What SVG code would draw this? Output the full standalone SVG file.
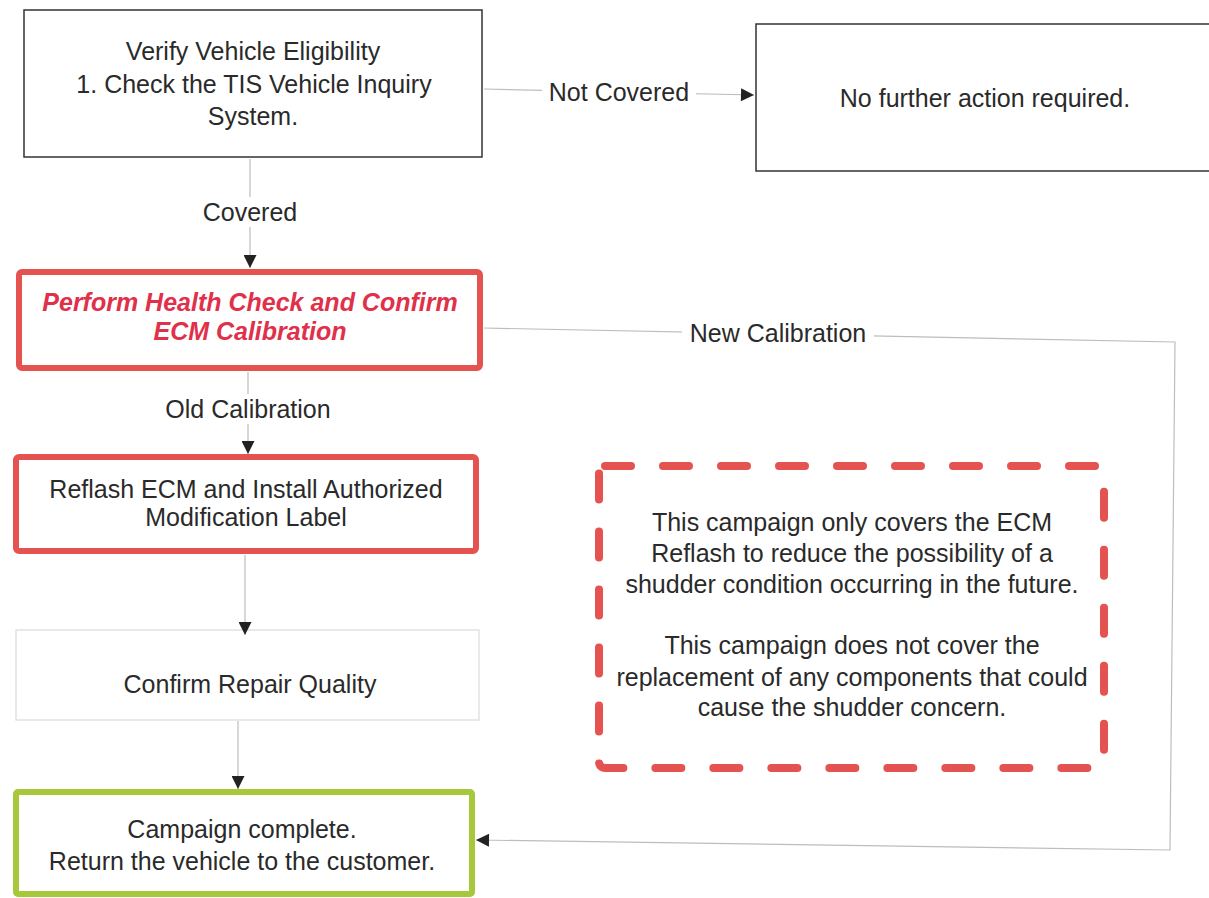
<svg xmlns="http://www.w3.org/2000/svg" width="1209" height="898" viewBox="0 0 1209 898">
<defs>
<style>
text{font-family:"Liberation Sans",Arial,sans-serif;font-size:25px;fill:#2a2a2a;text-anchor:middle}
.box{fill:#fff;stroke:#333;stroke-width:1.5}
.red{fill:#fff;stroke:#e4534f;stroke-width:6}
.green{fill:#fff;stroke:#a6c83a;stroke-width:6}
.faint{fill:#fff;stroke:#e2e2e2;stroke-width:1.5}
.conn{fill:none;stroke:#bdbdbd;stroke-width:1.2}
.lbl{fill:#fff;stroke:none}
.hc{fill:#e0304a;font-weight:bold;font-style:italic}
</style>
<marker id="arrw" viewBox="0 0 10 10" refX="10" refY="5" markerWidth="16" markerHeight="13" markerUnits="userSpaceOnUse" orient="auto">
<path d="M0,0 L10,5 L0,10 z" fill="#222"/>
</marker>
</defs>
<rect width="1209" height="898" fill="#fff"/>
<g id="verify">
<rect class="box" x="24" y="10" width="458" height="147"/>
<text x="253" y="60">Verify Vehicle Eligibility</text>
<text x="254" y="93">1. Check the TIS Vehicle Inquiry</text>
<text x="253" y="125">System.</text>
</g>
<g id="no-action">
<rect class="box" x="756" y="24" width="460" height="147"/>
<text x="985" y="107">No further action required.</text>
</g>
<g id="health-check">
<rect class="red" x="19" y="272" width="461" height="96" rx="3"/>
<text class="hc" x="250" y="311">Perform Health Check and Confirm</text>
<text class="hc" x="250" y="340">ECM Calibration</text>
</g>
<g id="reflash">
<rect class="red" x="16" y="457" width="460" height="94" rx="3"/>
<text x="246" y="498">Reflash ECM and Install Authorized</text>
<text x="246" y="526">Modification Label</text>
</g>
<g id="confirm">
<rect class="faint" x="16" y="630" width="463" height="90"/>
<text x="250" y="693">Confirm Repair Quality</text>
</g>
<g id="complete">
<rect class="green" x="16" y="792" width="456" height="102" rx="2"/>
<text x="242" y="838">Campaign complete.</text>
<text x="242" y="870">Return the vehicle to the customer.</text>
</g>
<g id="note">
<rect x="599" y="466" width="505" height="302" rx="6" fill="#fff" stroke="#e4534f" stroke-width="8" stroke-linecap="round" stroke-dasharray="26 32"/>
<text x="852" y="531">This campaign only covers the ECM</text>
<text x="852" y="562">Reflash to reduce the possibility of a</text>
<text x="852" y="593">shudder condition occurring in the future.</text>
<text x="852" y="654">This campaign does not cover the</text>
<text x="852" y="686">replacement of any components that could</text>
<text x="852" y="716">cause the shudder concern.</text>
</g>
<g id="connectors">
<path class="conn" d="M484,89 L754,95" marker-end="url(#arrw)"/>
<path class="conn" d="M250,159 L250,268" marker-end="url(#arrw)"/>
<path class="conn" d="M248,372 L248,454" marker-end="url(#arrw)"/>
<path class="conn" d="M245,555 L245,635" marker-end="url(#arrw)"/>
<path class="conn" d="M238,721 L238,789" marker-end="url(#arrw)"/>
<path class="conn" d="M484,328 L1175,342 L1170,850 L476,840" marker-end="url(#arrw)"/>
<rect class="lbl" x="542" y="77" width="154" height="30"/>
<text x="619" y="101">Not Covered</text>
<rect class="lbl" x="196" y="197" width="108" height="30"/>
<text x="250" y="221">Covered</text>
<rect class="lbl" x="155" y="394" width="186" height="30"/>
<text x="248" y="418">Old Calibration</text>
<rect class="lbl" x="682" y="319" width="192" height="30"/>
<text x="778" y="342">New Calibration</text>
</g>
</svg>
